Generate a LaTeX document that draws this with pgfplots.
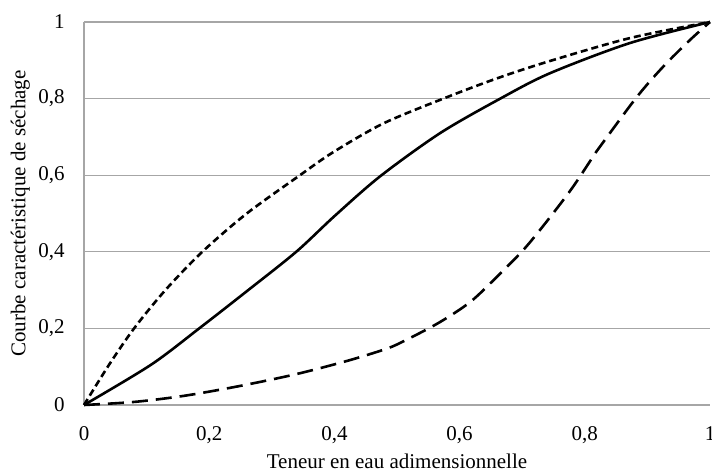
\documentclass[border=0pt]{standalone}
\usepackage{fontspec}
\setmainfont{Liberation Serif}
\usepackage{pgfplots}
\pgfplotsset{compat=1.18}
\definecolor{gridc}{RGB}{166,166,166}

\begin{document}
\fontsize{10.5}{12}\selectfont
\begin{tikzpicture}
\begin{axis}[scale only axis,width=313pt,height=191.5pt,
  xmin=0,xmax=1,ymin=0,ymax=1,
  axis x line=bottom, axis y line=left,
  axis line style={gridc,-,line width=0.6pt},
  xtick={0,0.2,0.4,0.6,0.8,1}, ytick={0,0.2,0.4,0.6,0.8,1},
  major tick length=0pt,
  ymajorgrids, grid style={gridc,line width=0.6pt},
  /pgf/number format/use comma,
  /pgf/number format/assume math mode=true,
  tick label style={font=\fontsize{10.5}{12}\selectfont},
  xticklabel style={yshift=-7pt},
  yticklabel style={xshift=-6pt},
  xlabel={Teneur en eau adimensionnelle},
  ylabel={Courbe caractéristique de séchage},
  xlabel style={font=\fontsize{10.5}{12}\selectfont,yshift=2pt},
  ylabel style={font=\fontsize{10.5}{12}\selectfont,yshift=-3pt},
  clip=false]
\addplot[black,line width=1.3pt,smooth,tension=0.5,
  dash pattern=on 3.5pt off 2pt] coordinates
  {(0,0) (0.04,0.105) (0.08,0.2) (0.13,0.3) (0.189,0.4) (0.26,0.5)
   (0.345,0.6) (0.398,0.66) (0.478,0.735) (0.574,0.8) (0.66,0.853)
   (0.744,0.898) (0.872,0.958) (1,1)};
\addplot[black,line width=1.3pt,smooth,tension=0.5] coordinates
  {(0,0) (0.107,0.105) (0.184,0.2) (0.26,0.297) (0.339,0.4) (0.40,0.493)
   (0.473,0.597) (0.569,0.71) (0.665,0.8) (0.744,0.866) (0.872,0.945) (1,1)};
\addplot[black,line width=1.3pt,smooth,tension=0.5,
  dash pattern=on 8pt off 4pt] coordinates
  {(0,0) (0.08,0.008) (0.16,0.024) (0.25,0.05) (0.34,0.081) (0.42,0.115)
   (0.478,0.144) (0.505,0.162) (0.566,0.214) (0.617,0.269) (0.661,0.337)
   (0.703,0.407) (0.741,0.483) (0.78,0.567) (0.813,0.648) (0.824,0.674)
   (0.883,0.804) (0.925,0.883) (0.968,0.953) (1,1)};
\end{axis}
\pgfresetboundingbox
\path ([shift={(-42pt,-33pt)}]current axis.south west)
  rectangle ([shift={(1pt,11pt)}]current axis.north east);
\end{tikzpicture}
\end{document}
